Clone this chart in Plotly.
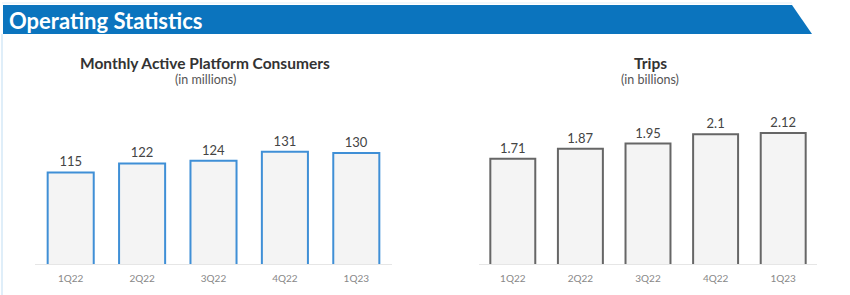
import plotly.graph_objects as go

quarters = ["1Q22", "2Q22", "3Q22", "4Q22", "1Q23"]
mapc = [115, 122, 124, 131, 130]
mapc_labels = ["115", "122", "124", "131", "130"]
trips = [1.71, 1.87, 1.95, 2.10, 2.12]
trips_labels = ["1.71", "1.87", "1.95", "2.1", "2.12"]

W, H = 850, 295
fig = go.Figure()

fig.add_trace(go.Bar(
    x=quarters, y=mapc, text=mapc_labels, textposition="outside",
    texttemplate="%{text}", cliponaxis=False, width=0.645,
    marker=dict(color="#f4f4f4", line=dict(color="#3f8fd6", width=2)),
    textfont=dict(family="Lato", size=13, color="#444444"),
    xaxis="x", yaxis="y", showlegend=False, hoverinfo="skip",
))
fig.add_trace(go.Bar(
    x=quarters, y=trips, text=trips_labels, textposition="outside",
    texttemplate="%{text}", cliponaxis=False, width=0.665,
    marker=dict(color="#f4f4f4", line=dict(color="#666666", width=2)),
    textfont=dict(family="Lato", size=13, color="#444444"),
    xaxis="x2", yaxis="y2", showlegend=False, hoverinfo="skip",
))

ybot = 1 - 264 / H
ytop = 1 - 110 / H
tickfont = dict(family="Lato", size=10, color="#888888")
fig.update_layout(
    width=W, height=H, margin=dict(l=0, r=0, t=0, b=0),
    paper_bgcolor="white", plot_bgcolor="rgba(0,0,0,0)",
    bargap=0.3,
    xaxis=dict(domain=[35 / W, 392 / W], range=[-0.5, 4.5], showgrid=False,
               showline=True, linecolor="#e6e6e6", linewidth=1, ticks="",
               ticklabelstandoff=5, tickfont=tickfont, anchor="y", fixedrange=True),
    yaxis=dict(domain=[ybot, ytop], range=[44, 44 + 154 / 1.29], visible=False,
               anchor="x", fixedrange=True),
    xaxis2=dict(domain=[479 / W, 817 / W], range=[-0.5, 4.5], showgrid=False,
                showline=True, linecolor="#e6e6e6", linewidth=1, ticks="",
                ticklabelstandoff=5, tickfont=tickfont, anchor="y2", fixedrange=True),
    yaxis2=dict(domain=[ybot, ytop], range=[0.03, 0.03 + 154 / 62.7], visible=False,
                anchor="x2", fixedrange=True),
)

# banner
fig.add_shape(type="path", xref="paper", yref="paper",
              path=f"M {3/W} {1-5/H} L {792/W} {1-5/H} L {812/W} {1-34/H} L {3/W} {1-34/H} Z",
              fillcolor="#0b74be", line=dict(width=0), layer="below")
fig.add_shape(type="line", xref="paper", yref="paper",
              x0=2/W, x1=2/W, y0=0, y1=1-34/H,
              line=dict(color="#d5e8f7", width=1.5), layer="below")
fig.add_shape(type="line", xref="paper", yref="paper",
              x0=2/W, x1=792/W, y0=1-3/H, y1=1-3/H,
              line=dict(color="#e3eff9", width=1), layer="below")
fig.add_annotation(text="<b>Operating Statistics</b>", xref="paper", yref="paper",
                   x=7/W, y=1-20/H, xanchor="left", yanchor="middle", showarrow=False,
                   font=dict(family="Lato", size=22, color="white"))

# chart titles
for cx, t, s in [(205, "Monthly Active Platform Consumers", "(in millions)"),
                 (650, "Trips", "(in billions)")]:
    fig.add_annotation(text=f"<b>{t}</b>", xref="paper", yref="paper",
                       x=cx/W, y=1-63/H, xanchor="center", yanchor="middle",
                       showarrow=False, font=dict(family="Lato", size=15.5, color="#333333"))
    fig.add_annotation(text=s, xref="paper", yref="paper",
                       x=cx/W, y=1-80/H, xanchor="center", yanchor="middle",
                       showarrow=False, font=dict(family="Lato", size=12.5, color="#555555"))

fig.write_html("out.html")
